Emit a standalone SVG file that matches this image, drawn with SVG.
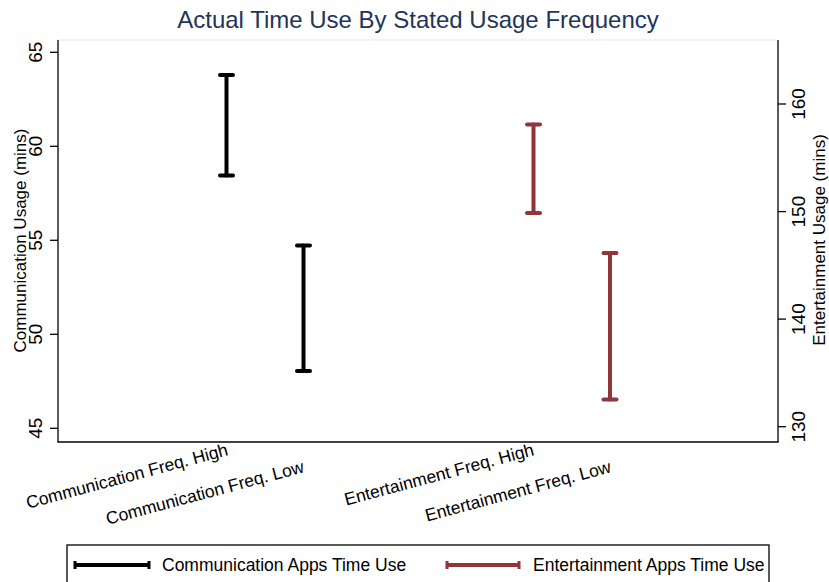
<svg xmlns="http://www.w3.org/2000/svg" width="829" height="582" viewBox="0 0 829 582">
  <style>
    text { font-family: "Liberation Sans", Arial, Helvetica, sans-serif; fill: #000; }
    .title { font-size: 24px; fill: #22345a; }
    .tick { font-size: 19px; }
    .axt { font-size: 17px; }
    .cat { font-size: 17.5px; }
    .leg { font-size: 17.5px; }
    .axis { stroke: #000; stroke-width: 1.3; fill: none; }
    .bar { stroke-width: 4; stroke-linecap: round; fill: none; }
    .comm { stroke: #000; }
    .ent { stroke: #90353b; }
  </style>

  <rect x="0" y="0" width="829" height="582" fill="#fff"/>

  <text class="title" x="418" y="28" text-anchor="middle">Actual Time Use By Stated Usage Frequency</text>

  <!-- plot frame -->
  <g id="axes">
    <line x1="58" y1="40" x2="778" y2="40" stroke="#e2eaee" stroke-width="1.2"/>
    <line class="axis" x1="58" y1="40" x2="58" y2="442"/>
    <line class="axis" x1="778" y1="40" x2="778" y2="442"/>
    <line class="axis" x1="57.4" y1="442" x2="778.6" y2="442"/>

    <!-- left ticks -->
    <g class="axis">
      <line x1="50" y1="52.3" x2="58" y2="52.3"/>
      <line x1="50" y1="146.3" x2="58" y2="146.3"/>
      <line x1="50" y1="240.3" x2="58" y2="240.3"/>
      <line x1="50" y1="334.3" x2="58" y2="334.3"/>
      <line x1="50" y1="428.3" x2="58" y2="428.3"/>
    </g>
    <g class="tick" text-anchor="middle">
      <text transform="translate(42,52.3) rotate(-90)">65</text>
      <text transform="translate(42,146.3) rotate(-90)">60</text>
      <text transform="translate(42,240.3) rotate(-90)">55</text>
      <text transform="translate(42,334.3) rotate(-90)">50</text>
      <text transform="translate(42,428.3) rotate(-90)">45</text>
    </g>
    <text class="axt" text-anchor="middle" transform="translate(26,240.5) rotate(-90)">Communication Usage (mins)</text>

    <!-- right ticks -->
    <g class="axis">
      <line x1="778" y1="104" x2="786" y2="104"/>
      <line x1="778" y1="211.6" x2="786" y2="211.6"/>
      <line x1="778" y1="319.1" x2="786" y2="319.1"/>
      <line x1="778" y1="426.7" x2="786" y2="426.7"/>
    </g>
    <g class="tick" text-anchor="middle">
      <text transform="translate(805,104) rotate(-90)">160</text>
      <text transform="translate(805,211.6) rotate(-90)">150</text>
      <text transform="translate(805,319.1) rotate(-90)">140</text>
      <text transform="translate(805,426.7) rotate(-90)">130</text>
    </g>
    <text class="axt" text-anchor="middle" transform="translate(825,240) rotate(-90)">Entertainment Usage (mins)</text>

    <!-- category labels, alternating rows -->
    <g class="cat" text-anchor="end">
      <text transform="translate(229,455) rotate(-15)">Communication Freq. High</text>
      <text transform="translate(305,472) rotate(-15)">Communication Freq. Low</text>
      <text transform="translate(535,455) rotate(-15)">Entertainment Freq. High</text>
      <text transform="translate(612,472) rotate(-15)">Entertainment Freq. Low</text>
    </g>
  </g>

  <!-- range bars -->
  <g id="bars">
    <g id="comm-high" class="bar comm">
      <line x1="226.5" y1="75" x2="226.5" y2="175.5"/>
      <line x1="220" y1="75" x2="233" y2="75"/>
      <line x1="220" y1="175.5" x2="233" y2="175.5"/>
    </g>
    <g id="comm-low" class="bar comm">
      <line x1="303.5" y1="245.5" x2="303.5" y2="371"/>
      <line x1="297" y1="245.5" x2="310" y2="245.5"/>
      <line x1="297" y1="371" x2="310" y2="371"/>
    </g>
    <g id="ent-high" class="bar ent">
      <line x1="533.5" y1="124.5" x2="533.5" y2="213"/>
      <line x1="527" y1="124.5" x2="540" y2="124.5"/>
      <line x1="527" y1="213" x2="540" y2="213"/>
    </g>
    <g id="ent-low" class="bar ent">
      <line x1="610" y1="253" x2="610" y2="399.5"/>
      <line x1="603.5" y1="253" x2="616.5" y2="253"/>
      <line x1="603.5" y1="399.5" x2="616.5" y2="399.5"/>
    </g>
  </g>

  <!-- legend -->
  <g id="legend">
    <rect x="67" y="545" width="702" height="50" fill="#fff" stroke="#000" stroke-width="1.3"/>
    <g id="legend-comm">
      <line x1="74" y1="565" x2="150" y2="565" stroke="#000" stroke-width="4"/>
      <line x1="75" y1="561" x2="75" y2="569" stroke="#000" stroke-width="3"/>
      <line x1="149" y1="561" x2="149" y2="569" stroke="#000" stroke-width="3"/>
      <text class="leg" x="162" y="571">Communication Apps Time Use</text>
    </g>
    <g id="legend-ent">
      <line x1="446" y1="565" x2="520" y2="565" stroke="#90353b" stroke-width="4"/>
      <line x1="447" y1="561" x2="447" y2="569" stroke="#90353b" stroke-width="3"/>
      <line x1="519" y1="561" x2="519" y2="569" stroke="#90353b" stroke-width="3"/>
      <text class="leg" x="533" y="571">Entertainment Apps Time Use</text>
    </g>
  </g>
</svg>
